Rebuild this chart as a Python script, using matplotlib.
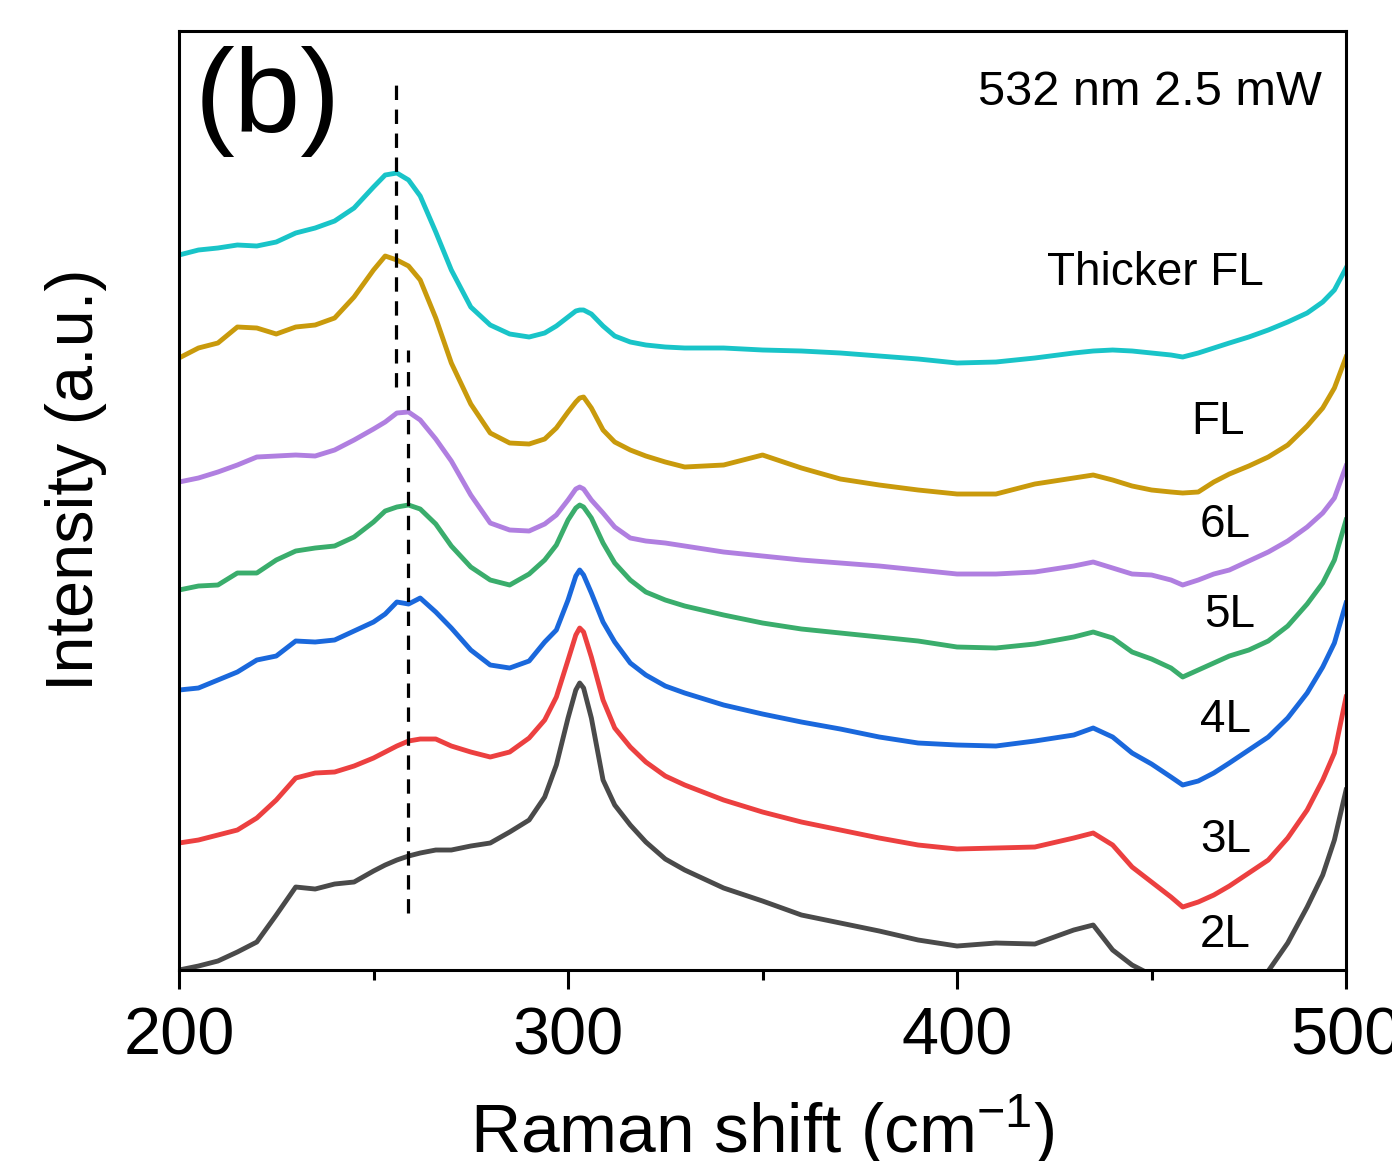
import matplotlib
matplotlib.use("Agg")
import matplotlib.pyplot as plt

plt.rcParams['font.family'] = ['Liberation Sans', 'DejaVu Sans']
plt.rcParams['mathtext.fontset'] = 'custom'
plt.rcParams['mathtext.rm'] = 'Liberation Sans'
plt.rcParams['mathtext.it'] = 'Liberation Sans'

# Raman shift grid (cm-1)
shift = [200, 205, 210, 215, 220, 225, 230, 235, 240, 245, 250, 253, 256, 259, 262, 266,
         270, 275, 280, 285, 290, 294, 297, 300, 302, 303, 304, 306, 309, 312, 316, 320,
         325, 330, 340, 350, 360, 370, 380, 390, 400, 410, 420, 430, 435, 440, 445, 450,
         455, 458, 462, 466, 470, 475, 480, 485, 490, 494, 497, 500]

# intensities (a.u., already offset for stacking)
thicker_fl = [715, 720, 722, 725, 724, 728, 737, 742, 749, 762, 783, 795, 797, 790, 774, 738,
              700, 663, 645, 636, 633, 637, 644, 653, 659, 660, 660, 656, 644, 634, 628, 625,
              623, 622, 622, 620, 619, 617, 614, 611, 607, 608, 612, 617, 619, 620, 619, 617,
              615, 613, 617, 622, 627, 633, 640, 648, 657, 668, 680, 702]
fl = [612, 622, 627, 643, 642, 636, 643, 645, 652, 673, 700, 714, 710, 704, 690, 652,
      607, 566, 537, 527, 526, 531, 542, 558, 568, 572, 573, 562, 540, 528, 520, 514,
      508, 503, 505, 515, 502, 491, 485, 480, 476, 476, 486, 492, 495, 490, 484, 480,
      478, 477, 478, 488, 496, 504, 513, 525, 544, 562, 582, 613]
l6 = [488, 492, 498, 505, 513, 514, 515, 514, 520, 530, 541, 548, 557, 558, 550, 531,
      509, 475, 447, 440, 439, 446, 455, 470, 481, 483, 481, 470, 457, 443, 432, 429,
      427, 424, 418, 414, 410, 407, 404, 400, 396, 396, 398, 404, 408, 402, 396, 395,
      390, 385, 390, 396, 400, 409, 418, 429, 443, 457, 472, 504]
l5 = [380, 384, 385, 397, 397, 410, 419, 422, 424, 433, 448, 459, 463, 465, 461, 446,
      424, 403, 390, 385, 396, 410, 425, 450, 462, 465, 463, 452, 427, 407, 390, 378,
      370, 364, 355, 347, 341, 337, 333, 329, 323, 322, 326, 333, 338, 332, 318, 311,
      302, 293, 300, 307, 314, 320, 329, 344, 366, 387, 410, 450]
l4 = [280, 282, 290, 298, 310, 314, 329, 328, 330, 339, 348, 356, 368, 366, 372, 358,
      342, 320, 305, 302, 309, 328, 340, 370, 394, 400, 395, 377, 348, 328, 307, 295,
      284, 277, 265, 256, 248, 241, 233, 227, 225, 224, 229, 235, 242, 233, 217, 206,
      193, 185, 189, 197, 207, 220, 233, 252, 277, 303, 327, 367]
l3 = [127, 130, 135, 140, 152, 170, 192, 197, 198, 204, 212, 218, 224, 229, 231, 231,
      224, 218, 213, 218, 232, 250, 273, 310, 335, 342, 338, 313, 270, 242, 223, 208,
      194, 185, 170, 158, 148, 140, 132, 125, 121, 122, 123, 132, 137, 125, 103, 88,
      73, 63, 68, 75, 84, 97, 110, 132, 160, 190, 217, 273]
l2 = [0, 4, 9, 18, 28, 55, 83, 81, 86, 88, 99, 105, 110, 114, 117, 120,
      120, 124, 127, 138, 150, 173, 205, 252, 280, 287, 282, 252, 190, 165, 145, 128,
      111, 100, 82, 69, 55, 47, 39, 30, 24, 27, 26, 40, 45, 20, 5, -5,
      -20, -28, -35, -35, -28, -15, -1, 27, 63, 95, 130, 180]

series = [l2, l3, l4, l5, l6, fl, thicker_fl]
colors = ['#4a4a4a', '#ec4040', '#1a68dc', '#3aad6c', '#b07fe0', '#c99a0c', '#19c4c8']
labels = ['2L', '3L', '4L', '5L', '6L', 'FL', 'Thicker FL']
label_x = [469, 469, 469, 470, 469, 467, 451]
label_y = [35, 130, 250, 355, 445, 548, 697]

# dashed guide lines
guide_x = [255.8, 258.8]
guide_lo = [583, 57]
guide_hi = [893, 620]

fig = plt.figure(figsize=(13.92, 11.61), dpi=100)
ax = fig.add_axes([0.1286, 0.1645, 0.8384, 0.8088])

for ys, c in zip(series, colors):
    ax.plot(shift, ys, color=c, lw=3.5, solid_joinstyle='round')

ax.vlines(guide_x, guide_lo, guide_hi, colors='black', lw=2.3,
          linestyles=(0, (4.5, 3)))

for t, lx, ly in zip(labels, label_x, label_y):
    ax.text(lx, ly, t, fontsize=33, ha='center', va='center')

ax.text(0.979, 0.935, '532 nm 2.5 mW', transform=ax.transAxes, fontsize=35,
        ha='right', va='center')
ax.text(0.013, 0.925, '(b)', transform=ax.transAxes, fontsize=86,
        ha='left', va='center')

ax.set_xlim(200, 500)
ax.set_ylim(0, 939)
ax.set_xticks([200, 300, 400, 500])
ax.set_xticks([250, 350, 450], minor=True)
ax.set_yticks([])
ax.tick_params(axis='x', which='major', direction='out', length=14, width=2.2,
               labelsize=48, pad=12)
ax.tick_params(axis='x', which='minor', direction='out', length=7, width=2.2)
for s in ax.spines.values():
    s.set_linewidth(2.2)

ax.set_xlabel('Raman shift (cm$^{-1}$)', fontsize=50, labelpad=18)
ax.set_ylabel('Intensity (a.u.)', fontsize=48)
ax.yaxis.set_label_coords(-0.062, 0.522)

fig.savefig('out.png', dpi=100)
